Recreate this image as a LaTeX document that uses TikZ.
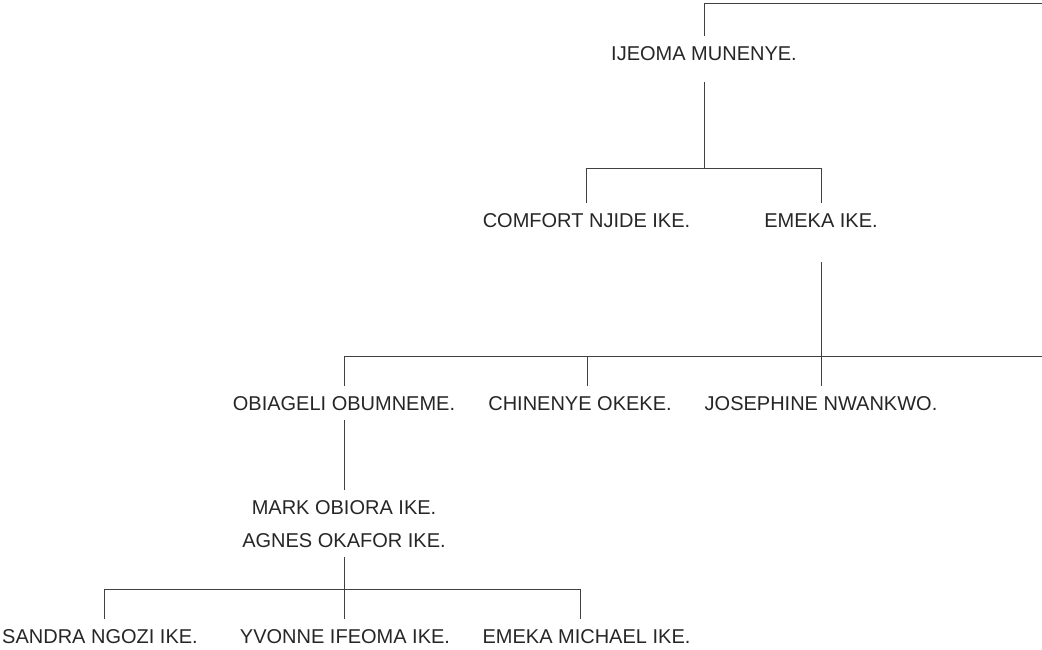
\documentclass[tikz,border=0pt]{standalone}
\usepackage{fontspec}
\setmainfont{Liberation Sans}
\begin{document}
\begin{tikzpicture}[x=1pt,y=-1pt,
  person/.style={anchor=base, font=\fontsize{20}{24}\selectfont, text=black!85,
    inner xsep=0pt, inner ysep=10pt, text height=14.3pt, text depth=0pt},
  link/.style={draw=black!75, line width=1pt}]
\useasboundingbox (0,0) rectangle (1042,650);
% people
\node[person] (ijeoma)    at (704,61)   {IJEOMA MUNENYE.};
\node[person] (comfort)   at (586.5,227) {COMFORT NJIDE IKE.};
\node[person] (emeka)     at (821,227)  {EMEKA IKE.};
\node[person] (obiageli)  at (344,410)  {OBIAGELI OBUMNEME.};
\node[person] (chinenye)  at (580,410)  {CHINENYE OKEKE.};
\node[person] (josephine) at (821,410)  {JOSEPHINE NWANKWO.};
\node[person] (mark)      at (344,514)  {MARK OBIORA IKE.};
\node[person] (agnes)     at (344,547)  {AGNES OKAFOR IKE.};
\node[person] (sandra)    at (100,643)  {SANDRA NGOZI IKE.};
\node[person] (yvonne)    at (345,643)  {YVONNE IFEOMA IKE.};
\node[person] (emekam)    at (586.5,643) {EMEKA MICHAEL IKE.};
% junction points
\coordinate (tL)  at (704,4);
\coordinate (tR)  at (1042,4);
\coordinate (b1C) at (704,169);
\coordinate (b1L) at (586,169);
\coordinate (b1R) at (821,169);
\coordinate (b2L) at (344,356);
\coordinate (b2M) at (587,356);
\coordinate (b2C) at (821,356);
\coordinate (b2R) at (1042,356);
\coordinate (b3L) at (104,589);
\coordinate (b3C) at (344,589);
\coordinate (b3R) at (580,589);
% connectors
\draw[link] (tR) -- (tL) -- (ijeoma.north -| tL);
\draw[link] ([yshift=-11pt]ijeoma.south -| b1C) -- (b1C);
\draw[link] (comfort.north -| b1L) -- (b1L) -- (b1R) -- (emeka.north -| b1R);
\draw[link] ([yshift=-25pt]emeka.south -| b2C) -- (josephine.north -| b2C);
\draw[link] (obiageli.north -| b2L) -- (b2L) -- (b2R);
\draw[link] (b2M) -- (chinenye.north -| b2M);
\draw[link] (obiageli.south -| b2L) -- (mark.north -| b2L);
\draw[link] (agnes.south -| b3C) -- (b3C);
\draw[link] (sandra.north -| b3L) -- (b3L) -- (b3R) -- (emekam.north -| b3R);
\draw[link] (b3C) -- (yvonne.north -| b3C);
\end{tikzpicture}
\end{document}
